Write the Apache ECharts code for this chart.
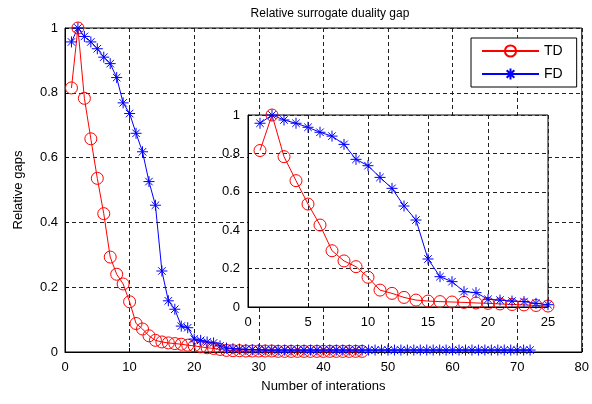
<!DOCTYPE html>
<html>
<head>
<meta charset="utf-8">
<script src="https://cdn.jsdelivr.net/npm/echarts@6/dist/echarts.min.js"></script>
<style>html,body{margin:0;padding:0;background:#fff}#c{width:592px;height:404px}</style>
</head>
<body>
<div id="c"></div>
<script>
// TD values for iterations 1..46
const tdValues = [0.815, 1.0, 0.783, 0.658, 0.536, 0.427, 0.293, 0.240, 0.210, 0.155,
  0.088, 0.071, 0.050, 0.036, 0.031, 0.028, 0.026, 0.024, 0.021, 0.019,
  0.016, 0.013, 0.011, 0.008, 0.005, 0.004, 0.004, 0.003, 0.003, 0.003,
  0.003, 0.003, 0.002, 0.002, 0.002, 0.002, 0.002, 0.002, 0.002, 0.002,
  0.002, 0.002, 0.002, 0.002, 0.002, 0.002];
// FD values for iterations 1..72
const fdValues = [0.957, 1.0, 0.974, 0.957, 0.936, 0.910, 0.890, 0.847, 0.769, 0.736,
  0.675, 0.618, 0.526, 0.453, 0.250, 0.158, 0.132, 0.080, 0.075, 0.040,
  0.036, 0.031, 0.028, 0.019, 0.012, 0.010, 0.009, 0.008, 0.007, 0.007,
  0.006, 0.006, 0.006, 0.006, 0.006, 0.006, 0.006, 0.006, 0.006, 0.006,
  0.006, 0.006, 0.006, 0.006, 0.006, 0.006, 0.006, 0.006, 0.006, 0.006,
  0.006, 0.006, 0.006, 0.006, 0.006, 0.006, 0.006, 0.006, 0.006, 0.006,
  0.006, 0.006, 0.006, 0.006, 0.006, 0.006, 0.006, 0.006, 0.006, 0.006,
  0.006, 0.006];
const insetCount = 25;
const mainXTicks = {min: 0, max: 80, interval: 10};
const insetXTicks = {min: 0, max: 25, interval: 5};
const yTicks = {min: 0, max: 1, interval: 0.2};

const toPairs = (arr, n) => arr.slice(0, n).map((v, i) => [i + 1, v]);

const FONT = 'Liberation Sans, Arial, sans-serif';
const grid = {type: 'dashed', color: '#000', width: 1, dashOffset: 0};
const dashed = {show: true, lineStyle: {type: [4, 3], color: '#222', width: 1}};
const label = {color: '#000', fontFamily: FONT, fontSize: 13};
const star = 'path://M5,0L5,10M0,5L10,5M1.6,1.6L8.4,8.4M8.4,1.6L1.6,8.4';

function tdSeries(xi, yi, data, z) {
  return {
    name: 'TD', type: 'line', xAxisIndex: xi, yAxisIndex: yi, data: data, z: z,
    clip: false, symbol: 'circle', symbolSize: 12, showSymbol: true,
    lineStyle: {color: '#ff0000', width: 1},
    itemStyle: {color: 'rgba(255,255,255,0)', borderColor: '#ff0000', borderWidth: 1},
    emphasis: {disabled: true}, animation: false
  };
}
function fdSeries(xi, yi, data, z) {
  return {
    name: 'FD', type: 'line', xAxisIndex: xi, yAxisIndex: yi, data: data, z: z,
    clip: false, symbol: star, symbolSize: 11, showSymbol: true,
    lineStyle: {color: '#0000ff', width: 1},
    itemStyle: {color: '#0000ff', borderColor: '#0000ff', borderWidth: 1},
    emphasis: {disabled: true}, animation: false
  };
}

const chart = echarts.init(document.getElementById('c'), null, {renderer: 'canvas'});
chart.setOption({
  animation: false,
  backgroundColor: '#fff',
  title: {
    text: 'Relative surrogate duality gap', left: 325, textAlign: 'center', top: 3,
    textStyle: {fontFamily: FONT, fontSize: 12, fontWeight: 'normal', color: '#000'}
  },
  legend: {
    orient: 'vertical', left: 471, top: 38,
    data: ['TD', 'FD'],
    itemWidth: 57, itemHeight: 14, itemGap: 9,
    padding: [6, 14, 6, 10],
    borderColor: '#000', borderWidth: 1, backgroundColor: '#fff',
    textStyle: {fontFamily: FONT, fontSize: 14, color: '#000'},
    z: 20
  },
  grid: [
    {left: 65, right: 6, top: 28, bottom: 52, show: true, borderColor: '#000', borderWidth: 1, backgroundColor: '#fff', z: 0},
    {left: 248, top: 115, width: 300, height: 192, show: true, borderColor: '#000', borderWidth: 1, backgroundColor: '#fff', z: 5}
  ],
  xAxis: [
    {type: 'value', gridIndex: 0, min: mainXTicks.min, max: mainXTicks.max, interval: mainXTicks.interval,
     name: 'Number of interations', nameLocation: 'middle', nameGap: 28,
     nameTextStyle: {fontFamily: FONT, fontSize: 13, color: '#000'},
     axisLine: {show: true, lineStyle: {color: '#000'}}, axisTick: {show: true, inside: true, length: 4, lineStyle: {color: '#000'}},
     axisLabel: Object.assign({margin: 9}, label), splitLine: dashed, z: 1},
    {type: 'value', gridIndex: 1, min: insetXTicks.min, max: insetXTicks.max, interval: insetXTicks.interval,
     axisLine: {show: true, lineStyle: {color: '#000'}}, axisTick: {show: true, inside: true, length: 4, lineStyle: {color: '#000'}},
     axisLabel: Object.assign({margin: 9}, label), splitLine: dashed, z: 6}
  ],
  yAxis: [
    {type: 'value', gridIndex: 0, min: yTicks.min, max: yTicks.max, interval: yTicks.interval,
     name: 'Relative gaps', nameLocation: 'middle', nameGap: 40,
     nameTextStyle: {fontFamily: FONT, fontSize: 13, color: '#000'},
     axisLine: {show: true, lineStyle: {color: '#000'}}, axisTick: {show: true, inside: true, length: 4, lineStyle: {color: '#000'}},
     axisLabel: Object.assign({margin: 7}, label), splitLine: dashed, z: 1},
    {type: 'value', gridIndex: 1, min: yTicks.min, max: yTicks.max, interval: yTicks.interval,
     axisLine: {show: true, lineStyle: {color: '#000'}}, axisTick: {show: true, inside: true, length: 4, lineStyle: {color: '#000'}},
     axisLabel: Object.assign({margin: 8}, label), splitLine: dashed, z: 6}
  ],
  series: [
    tdSeries(0, 0, toPairs(tdValues, tdValues.length), 2),
    fdSeries(0, 0, toPairs(fdValues, fdValues.length), 2),
    tdSeries(1, 1, toPairs(tdValues, insetCount), 7),
    fdSeries(1, 1, toPairs(fdValues, insetCount), 7)
  ]
});
</script>
</body>
</html>
